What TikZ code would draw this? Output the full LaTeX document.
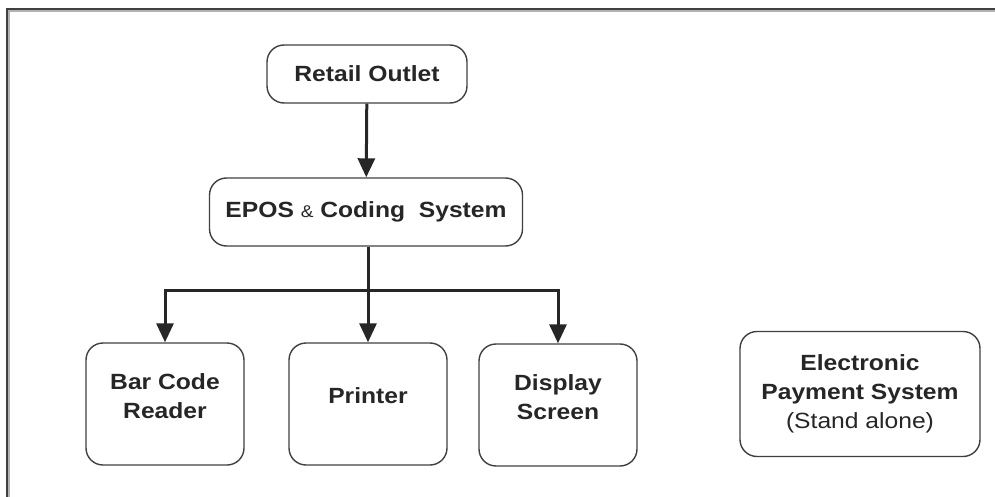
\documentclass[tikz,border=0pt]{standalone}
\usepackage{fontspec}
\setmainfont{Liberation Sans}[FakeStretch=1.12]
\usetikzlibrary{arrows.meta}
\begin{document}
\begin{tikzpicture}[
    x=1pt, y=-1pt,
    every node/.style={font=\fontsize{22}{29}\selectfont\bfseries, align=center, text=black!85},
    unit/.style={rounded corners=17pt, draw=black!75, line width=1.4pt, inner sep=0pt},
    device/.style={unit, minimum width=158pt, minimum height=122pt, text depth=16pt},
    arr/.style={-{Triangle[width=17pt,length=19pt]}, line width=3pt, black!85},
    trunk/.style={line width=3pt, black!85},
  ]
  \useasboundingbox (0,0) rectangle (995,497);

  % === Frame ===
  \draw[black!30, line width=2pt] (9,497) -- (9,11) -- (995,11);
  \draw[black!75, line width=2pt] (7,497) -- (7,9) -- (995,9);

  % === Top flow ===
  \node[unit, minimum width=200pt, minimum height=58pt] (outlet) at (367, 74)  {Retail Outlet};
  \node[unit, minimum width=313pt, minimum height=68pt] (epos)   at (366, 212) {EPOS {\mdseries\fontsize{17}{20}\selectfont\&} Coding\ \ System};

  % === Devices ===
  \node[device] (reader)  at (165, 404) {Bar Code\\Reader};
  \node[device] (printer) at (368, 404) {Printer};
  \node[device] (screen)  at (558, 405) {Display\\Screen};

  % === Stand alone ===
  \node[unit, minimum width=240pt, minimum height=125pt] (payment) at (860, 394)
       {Electronic\\Payment System\\{\mdseries (Stand alone)}};

  % === Arrows ===
  \coordinate (split) at (368, 290);
  \draw[arr] (outlet) -- (epos);
  \draw[trunk] (epos.south -| split) -- (split);
  \draw[arr] (split) -- (printer.north -| split);
  \draw[arr] (split) -| (reader.north);
  \draw[arr] (split) -| (screen.north);

\end{tikzpicture}
\end{document}
